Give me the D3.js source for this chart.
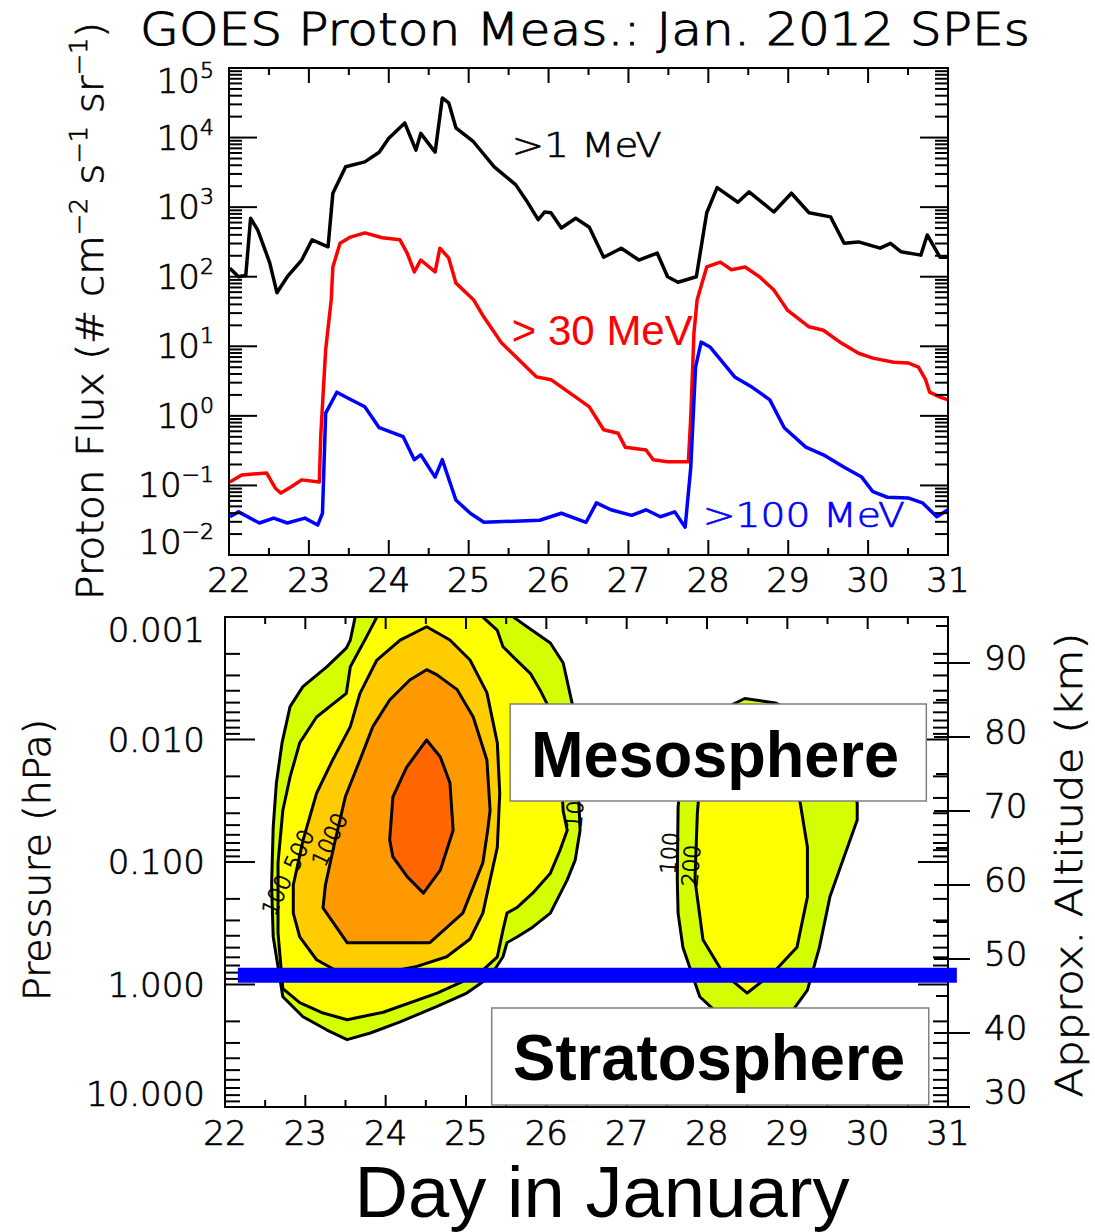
<!DOCTYPE html>
<html>
<head>
<meta charset="UTF-8">
<title>GOES Proton Meas.: Jan. 2012 SPEs</title>
<script src="https://cdn.jsdelivr.net/npm/d3@7"></script>
<style>
  body { margin: 0; background: #fff; }
  svg text { font-family: "DejaVu Sans", sans-serif; font-weight: 300; stroke: #000; stroke-width: 0.7px; }
  svg text.plain { stroke: none; }
</style>
</head>
<body>
<svg id="chart" width="1095" height="1232"></svg>
<script>
// ---- axis ticks / labels ----
var dayTicks = [22, 23, 24, 25, 26, 27, 28, 29, 30, 31];
var fluxExps = [-2, -1, 0, 1, 2, 3, 4, 5];
var pressTicks = [0.001, 0.01, 0.1, 1, 10];
var pressLabels = ["0.001", "0.010", "0.100", "1.000", "10.000"];
var altTicks = [30, 40, 50, 60, 70, 80, 90];

// ---- GOES proton flux, log10(# cm-2 s-1 sr-1) ----
var mev1Day = [22.01, 22.12, 22.21, 22.27, 22.36, 22.51, 22.60, 22.73, 22.91, 23.04, 23.24, 23.30, 23.46, 23.70, 23.88, 24.00, 24.20, 24.34, 24.40, 24.58, 24.67, 24.75, 24.84, 25.06, 25.32, 25.59, 25.72, 25.87, 25.95, 26.03, 26.16, 26.34, 26.51, 26.69, 26.91, 27.13, 27.36, 27.49, 27.62, 27.85, 27.98, 28.11, 28.37, 28.51, 28.82, 29.04, 29.26, 29.53, 29.70, 29.88, 30.15, 30.28, 30.41, 30.66, 30.74, 30.90, 31.00];
var mev1Log = [2.12, 2.00, 2.02, 2.84, 2.67, 2.20, 1.77, 2.00, 2.24, 2.53, 2.43, 3.20, 3.58, 3.65, 3.79, 3.99, 4.21, 3.82, 4.06, 3.79, 4.57, 4.50, 4.14, 3.94, 3.58, 3.32, 3.10, 2.82, 2.93, 2.92, 2.70, 2.84, 2.71, 2.28, 2.41, 2.24, 2.34, 2.00, 1.92, 2.00, 2.92, 3.28, 3.07, 3.22, 2.93, 3.20, 2.92, 2.86, 2.48, 2.50, 2.41, 2.48, 2.36, 2.31, 2.60, 2.28, 2.28];

var mev30Day = [22.01, 22.16, 22.47, 22.58, 22.65, 22.78, 22.91, 23.13, 23.15, 23.21, 23.28, 23.30, 23.39, 23.52, 23.70, 23.92, 24.14, 24.23, 24.32, 24.40, 24.58, 24.64, 24.75, 24.84, 25.06, 25.19, 25.41, 25.59, 25.85, 26.03, 26.34, 26.51, 26.69, 26.87, 26.96, 27.22, 27.31, 27.49, 27.75, 27.78, 27.82, 27.86, 27.98, 28.15, 28.29, 28.46, 28.64, 28.82, 28.99, 29.26, 29.44, 29.66, 29.88, 30.06, 30.32, 30.50, 30.63, 30.72, 30.77, 30.90, 31.00];
var mev30Log = [-0.95, -0.85, -0.82, -1.04, -1.11, -1.02, -0.92, -0.95, -0.25, 0.95, 1.67, 2.14, 2.48, 2.57, 2.63, 2.56, 2.53, 2.34, 2.07, 2.24, 2.07, 2.41, 2.27, 1.91, 1.67, 1.42, 1.05, 0.85, 0.56, 0.52, 0.27, 0.13, -0.20, -0.25, -0.45, -0.49, -0.63, -0.66, -0.66, -0.02, 1.19, 1.67, 2.14, 2.21, 2.10, 2.14, 2.00, 1.81, 1.52, 1.28, 1.23, 1.05, 0.90, 0.83, 0.77, 0.76, 0.70, 0.52, 0.34, 0.27, 0.23];

var mev100Day = [22.01, 22.12, 22.38, 22.56, 22.73, 22.95, 23.11, 23.17, 23.21, 23.35, 23.48, 23.70, 23.88, 24.18, 24.32, 24.40, 24.58, 24.67, 24.84, 25.02, 25.19, 25.89, 26.16, 26.47, 26.60, 26.78, 27.04, 27.22, 27.40, 27.58, 27.71, 27.78, 27.84, 27.91, 28.02, 28.33, 28.55, 28.77, 28.95, 29.22, 29.44, 29.70, 29.92, 30.06, 30.24, 30.50, 30.68, 30.86, 31.00];
var mev100Log = [-1.45, -1.38, -1.54, -1.47, -1.54, -1.47, -1.57, -1.40, 0.04, 0.34, 0.26, 0.13, -0.17, -0.30, -0.63, -0.56, -0.88, -0.63, -1.21, -1.40, -1.53, -1.50, -1.40, -1.53, -1.25, -1.35, -1.43, -1.35, -1.45, -1.38, -1.60, -0.74, 0.70, 1.06, 0.99, 0.56, 0.41, 0.23, -0.17, -0.45, -0.56, -0.74, -0.88, -1.09, -1.17, -1.18, -1.25, -1.45, -1.35];

// ---- model contour outlines, [day, approx. altitude km] ----
var blobA10 = [[23.66,99],[23.62,96.2],[23.56,93.1],[23.51,92.0],[23.27,89.5],[22.97,86.8],[22.81,84.1],[22.71,79.2],[22.64,73.8],[22.60,67.8],[22.58,60.0],[22.60,53.0],[22.72,44.9],[22.97,42.2],[23.27,40.4],[23.52,39.1],[23.81,40.0],[24.18,41.5],[24.64,43.6],[25.01,45.4],[25.30,47.6],[25.46,50.3],[25.51,52.2],[25.64,53.0],[25.83,54.3],[26.05,56.2],[26.26,60.7],[26.36,63.4],[26.42,67.4],[26.39,75.0],[26.33,84.1],[26.21,90.0],[26.05,92.7],[25.76,94.9],[25.59,96.2],[25.55,99]];
var blobA100 = [[23.92,99],[23.89,96.2],[23.76,93.5],[23.56,89.5],[23.51,85.9],[23.14,82.7],[22.93,79.2],[22.81,74.6],[22.72,70.1],[22.66,63.0],[22.66,53.5],[22.72,46.0],[22.93,44.1],[23.22,42.7],[23.52,41.8],[23.97,42.8],[24.64,45.4],[25.01,47.2],[25.21,48.5],[25.39,50.3],[25.46,53.9],[25.51,56.2],[25.64,57.0],[25.83,58.9],[26.05,61.6],[26.17,64.7],[26.26,67.4],[26.21,70.0],[26.17,76.9],[26.05,83.6],[25.92,86.4],[25.80,88.6],[25.59,90.8],[25.46,92.2],[25.39,94.4],[25.21,96.2],[25.20,99]];
var blobA200 = [[24.51,94.9],[24.18,93.1],[23.89,90.4],[23.68,85.9],[23.56,81.4],[23.34,76.9],[23.14,72.4],[22.97,66.0],[22.85,60.0],[22.85,56.2],[22.93,53.0],[23.14,49.9],[23.52,47.6],[23.97,48.1],[24.39,49.0],[24.76,50.3],[25.05,52.7],[25.21,56.2],[25.30,60.7],[25.39,65.1],[25.42,72.4],[25.39,79.2],[25.26,86.0],[25.05,90.4],[24.80,93.1]];
var blobA500 = [[24.51,89.1],[24.30,87.7],[24.05,85.0],[23.84,81.4],[23.68,76.9],[23.50,72.0],[23.35,65.0],[23.25,60.0],[23.22,56.9],[23.52,52.2],[24.55,52.2],[24.96,56.2],[25.21,63.0],[25.27,67.4],[25.30,70.1],[25.26,76.9],[25.09,82.7],[24.89,86.4],[24.64,88.4]];
var blobA1000 = [[24.51,79.6],[24.26,75.9],[24.09,71.9],[24.05,66.1],[24.09,63.8],[24.27,61.1],[24.47,58.9],[24.68,62.0],[24.84,67.4],[24.80,73.8],[24.68,77.3]];
var blobB100 = [[28.47,85.2],[28.15,83.5],[27.85,79.0],[27.66,73.0],[27.64,70.5],[27.63,60.7],[27.64,56.2],[27.70,51.6],[27.91,44.9],[28.20,42.0],[28.50,41.0],[28.80,41.5],[29.05,42.8],[29.25,45.8],[29.40,51.6],[29.53,58.4],[29.66,62.4],[29.87,68.8],[29.87,71.1],[29.72,77.0],[29.35,82.0],[28.85,84.6]];
var blobB200 = [[28.47,83.0],[28.10,80.0],[27.92,75.0],[27.88,69.7],[27.85,60.7],[27.95,52.6],[28.20,48.1],[28.50,45.4],[28.82,48.1],[29.12,51.6],[29.25,58.4],[29.25,65.1],[29.16,71.1],[29.00,77.0],[28.80,81.0]];

var contourText = ["10", "1000", "500", "100", "100", "200"];
var contourDay = [26.36, 23.31, 22.93, 22.65, 27.54, 27.81];
var contourKm = [69.5, 66.1, 64.7, 58.6, 64.3, 62.6];

var stratopauseKm = 47.8;

var svg = d3.select("#chart");

function tickLines(g, data, fn) {
    g.append("g").attr("stroke", "#000").attr("stroke-width", 2)
        .selectAll("line").data(data).join("line")
        .attr("x1", function (d) { return fn(d)[0]; })
        .attr("y1", function (d) { return fn(d)[1]; })
        .attr("x2", function (d) { return fn(d)[2]; })
        .attr("y2", function (d) { return fn(d)[3]; });
}
function isDecade(v) {
    var l = Math.log10(v);
    return Math.abs(l - Math.round(l)) < 1e-6;
}
var halfDays = dayTicks.slice(0, -1).map(function (d) { return d + 0.5; });

// =============== top panel: GOES flux ===============
var xT = d3.scaleLinear().domain([22, 31]).range([229, 948]);
var yT = d3.scaleLog().domain([1e-2, 1e5]).range([555, 68]);
var gT = svg.append("g");

svg.append("clipPath").attr("id", "clipT").append("rect")
    .attr("x", 229).attr("y", 68).attr("width", 719).attr("height", 487);

var series = [
    { day: mev1Day, val: mev1Log, color: "#000000" },
    { day: mev30Day, val: mev30Log, color: "#ff0000" },
    { day: mev100Day, val: mev100Log, color: "#0000ff" }
];
var lineT = d3.line().x(function (d) { return xT(d[0]); }).y(function (d) { return yT(d[1]); });
series.forEach(function (s) {
    var pts = s.day.map(function (d, i) { return [d, Math.pow(10, s.val[i])]; });
    gT.append("path").attr("clip-path", "url(#clipT)")
        .attr("d", lineT(pts))
        .attr("fill", "none").attr("stroke", s.color)
        .attr("stroke-width", 3.5).attr("stroke-linejoin", "round");
});

// frame + ticks
gT.append("rect").attr("x", 229).attr("y", 68).attr("width", 719).attr("height", 487)
    .attr("fill", "none").attr("stroke", "#000").attr("stroke-width", 2);
tickLines(gT, dayTicks, function (d) { return [xT(d), 555, xT(d), 540]; });
tickLines(gT, dayTicks, function (d) { return [xT(d), 68, xT(d), 83]; });
tickLines(gT, halfDays, function (d) { return [xT(d), 555, xT(d), 548]; });
tickLines(gT, halfDays, function (d) { return [xT(d), 68, xT(d), 75]; });
var fluxTicks = yT.ticks();
tickLines(gT, fluxTicks, function (d) { var l = isDecade(d) ? 28 : 13; return [229, yT(d), 229 + l, yT(d)]; });
tickLines(gT, fluxTicks, function (d) { var l = isDecade(d) ? 28 : 13; return [948, yT(d), 948 - l, yT(d)]; });

// tick labels
gT.selectAll(".xlab").data(dayTicks).join("text")
    .attr("x", function (d) { return xT(d); }).attr("y", 592)
    .attr("text-anchor", "middle").attr("font-size", 34).text(function (d) { return d; });

gT.selectAll(".ylab").data(fluxExps).join("text")
    .attr("x", 214)
    .attr("y", function (e, i) {
        var shift = i === 0 ? -13 : (i === fluxExps.length - 1 ? 13 : 0);
        return yT(Math.pow(10, e)) + 12 + shift;
    })
    .attr("text-anchor", "end").attr("font-size", 34)
    .each(function (e) {
        var t = d3.select(this);
        t.append("tspan").text("10");
        t.append("tspan").attr("font-size", 22).attr("dy", -15)
            .text(e < 0 ? "\u2212" + (-e) : e);
    });

// title and axis title
svg.append("text").attr("x", 140).attr("y", 45).attr("font-size", 44)
    .style("stroke-width", "1px")
    .attr("textLength", 890).attr("lengthAdjust", "spacingAndGlyphs")
    .text("GOES Proton Meas.: Jan. 2012 SPEs");

var yTitle = svg.append("text").attr("transform", "translate(103,600) rotate(-90)")
    .attr("font-size", 38).attr("textLength", 578).attr("lengthAdjust", "spacingAndGlyphs");
yTitle.append("tspan").text("Proton Flux (# cm");
yTitle.append("tspan").attr("font-size", 24).attr("dy", -16).text("\u22122");
yTitle.append("tspan").attr("dy", 16).text(" s");
yTitle.append("tspan").attr("font-size", 24).attr("dy", -16).text("\u22121");
yTitle.append("tspan").attr("dy", 16).text(" sr");
yTitle.append("tspan").attr("font-size", 24).attr("dy", -16).text("\u22121");
yTitle.append("tspan").attr("dy", 16).text(")");

// series labels
gT.append("text").attr("x", xT(25.54)).attr("y", yT(Math.pow(10, 3.72)))
    .attr("font-size", 34).attr("textLength", 150).attr("lengthAdjust", "spacingAndGlyphs")
    .attr("fill", "#000").text(">1  MeV");
gT.append("text").attr("class", "plain").attr("x", xT(25.54)).attr("y", yT(Math.pow(10, 1.02)))
    .attr("font-size", 42).style("font-family", "'Liberation Sans', Arial, sans-serif")
    .style("font-weight", "normal")
    .attr("fill", "#ff0000").text("> 30 MeV");
gT.append("text").attr("x", xT(27.93)).attr("y", yT(Math.pow(10, -1.60)))
    .attr("font-size", 34).attr("textLength", 202).attr("lengthAdjust", "spacingAndGlyphs")
    .attr("fill", "#0000ff").style("stroke", "#0000ff").text(">100  MeV");

// =============== bottom panel: model contours ===============
var xB = d3.scaleLinear().domain([22, 31]).range([225, 948]);
var pB = d3.scaleLog().domain([0.001, 10]).range([617, 1107]);
var aB = d3.scaleLinear().domain([30, 90]).range([1107, 663]);
var gB = svg.append("g");

svg.append("clipPath").attr("id", "clipB").append("rect")
    .attr("x", 225).attr("y", 617).attr("width", 723).attr("height", 490);

var blobs = [
    { pts: blobA10, fill: "#d4ff00" },
    { pts: blobA100, fill: "#ffff00" },
    { pts: blobA200, fill: "#ffcc00" },
    { pts: blobA500, fill: "#ff9900" },
    { pts: blobA1000, fill: "#ff6600" },
    { pts: blobB100, fill: "#d4ff00" },
    { pts: blobB200, fill: "#ffff00" }
];
var lineB = d3.line().x(function (d) { return xB(d[0]); }).y(function (d) { return aB(d[1]); })
    .curve(d3.curveLinearClosed);
var gC = gB.append("g").attr("clip-path", "url(#clipB)");
gC.selectAll("path.fill").data(blobs).join("path").attr("class", "fill")
    .attr("d", function (d) { return lineB(d.pts); })
    .attr("fill", function (d) { return d.fill; }).attr("stroke", "none");
gC.selectAll("path.cline").data(blobs).join("path").attr("class", "cline")
    .attr("d", function (d) { return lineB(d.pts); })
    .attr("fill", "none").attr("stroke", "#000").attr("stroke-width", 3)
    .attr("stroke-linejoin", "round");

gC.selectAll("text.clab").data(contourText).join("text").attr("class", "clab")
    .attr("transform", function (d, i) {
        return "translate(" + xB(contourDay[i]) + "," + aB(contourKm[i]) + ") rotate(" + (i < 4 && i > 0 ? -65 : -85) + ")";
    })
    .attr("text-anchor", "middle").attr("dy", 7).attr("font-size", 22)
    .text(function (d) { return d; });

// frame + ticks
gB.append("rect").attr("x", 225).attr("y", 617).attr("width", 723).attr("height", 490)
    .attr("fill", "none").attr("stroke", "#000").attr("stroke-width", 2);
tickLines(gB, dayTicks, function (d) { return [xB(d), 1107, xB(d), 1095]; });
tickLines(gB, dayTicks, function (d) { return [xB(d), 617, xB(d), 629]; });
tickLines(gB, halfDays, function (d) { return [xB(d), 1107, xB(d), 1100]; });
tickLines(gB, halfDays, function (d) { return [xB(d), 617, xB(d), 624]; });
var pTicks = pB.ticks();
tickLines(gB, pTicks, function (d) { var l = isDecade(d) ? 30 : 15; return [225, pB(d), 225 + l, pB(d)]; });
tickLines(gB, pTicks, function (d) { var l = isDecade(d) ? 30 : 15; return [948, pB(d), 948 - l, pB(d)]; });
tickLines(gB, altTicks, function (d) { return [934, aB(d), 970, aB(d)]; });
tickLines(gB, altTicks.map(function (d) { return d + 5; }), function (d) { return [936, aB(d), 948, aB(d)]; });

gB.selectAll(".xlab").data(dayTicks).join("text")
    .attr("x", function (d) { return xB(d); }).attr("y", 1145)
    .attr("text-anchor", "middle").attr("font-size", 34).text(function (d) { return d; });
gB.selectAll(".plab").data(pressTicks).join("text")
    .attr("x", 205)
    .attr("y", function (d, i) {
        var shift = i === 0 ? 13 : (i === pressTicks.length - 1 ? -13 : 0);
        return pB(d) + 12 + shift;
    })
    .attr("text-anchor", "end").attr("font-size", 34)
    .text(function (d, i) { return pressLabels[i]; });
gB.selectAll(".alab").data(altTicks).join("text")
    .attr("x", 984)
    .attr("y", function (d, i) { return aB(d) + 7 + (i === 0 ? -10 : 0); })
    .attr("font-size", 34).text(function (d) { return d; });

svg.append("text").attr("transform", "translate(50,860) rotate(-90)")
    .attr("text-anchor", "middle").attr("font-size", 38)
    .attr("textLength", 282).attr("lengthAdjust", "spacingAndGlyphs")
    .text("Pressure (hPa)");
svg.append("text").attr("transform", "translate(1082,865) rotate(-90)")
    .attr("text-anchor", "middle").attr("font-size", 38)
    .attr("textLength", 465).attr("lengthAdjust", "spacingAndGlyphs")
    .text("Approx. Altitude (km)");

// layer boxes
function layerBox(d0, d1, k0, k1, label, tx, ty, tl) {
    gB.append("rect")
        .attr("x", xB(d0)).attr("y", aB(k0))
        .attr("width", xB(d1) - xB(d0)).attr("height", aB(k1) - aB(k0))
        .attr("fill", "#fff").attr("stroke", "#808080").attr("stroke-width", 1.5);
    gB.append("text").attr("class", "plain").attr("x", tx).attr("y", ty)
        .style("font-family", "'Liberation Sans', Arial, sans-serif")
        .style("font-weight", "bold").attr("font-size", 64)
        .attr("textLength", tl).attr("lengthAdjust", "spacingAndGlyphs")
        .text(label);
}
layerBox(25.55, 30.73, 84.46, 71.35, "Mesosphere", 531, 777, 368);
layerBox(25.32, 30.76, 43.38, 30.27, "Stratosphere", 513, 1080, 392);

// stratopause
gB.append("line")
    .attr("x1", xB(22.16)).attr("x2", xB(31.11))
    .attr("y1", aB(stratopauseKm)).attr("y2", aB(stratopauseKm))
    .attr("stroke", "#0000ff").attr("stroke-width", 15);

svg.append("text").attr("class", "plain").attr("x", 602).attr("y", 1217)
    .attr("text-anchor", "middle")
    .style("font-family", "'Liberation Sans', Arial, sans-serif")
    .style("font-weight", "normal")
    .attr("font-size", 72).attr("textLength", 495).attr("lengthAdjust", "spacingAndGlyphs")
    .text("Day in January");
</script>
</body>
</html>
